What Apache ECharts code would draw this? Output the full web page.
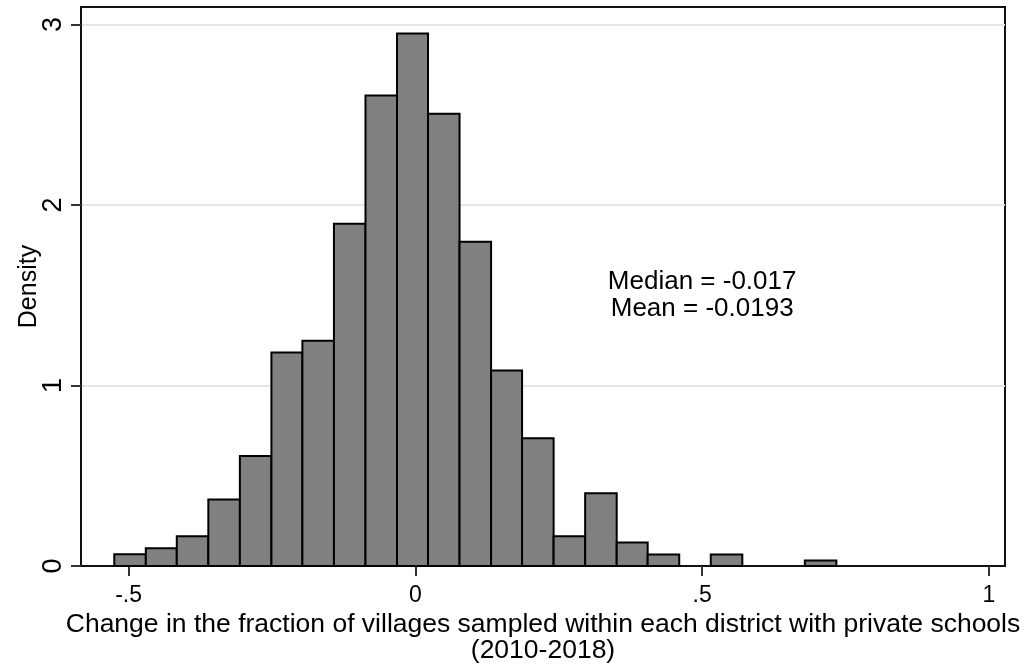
<!DOCTYPE html>
<html>
<head>
<meta charset="utf-8">
<script src="https://cdn.jsdelivr.net/npm/echarts@6/dist/echarts.min.js"></script>
<style>
  html, body { margin: 0; padding: 0; background: #fff; }
  #chart { width: 1027px; height: 669px; }
</style>
</head>
<body>
<div id="chart"></div>
<script>
// bin edges of the histogram
var binEdges = [-0.525, -0.470, -0.416, -0.361, -0.306, -0.251, -0.197, -0.142, -0.087, -0.032,
  0.022, 0.077, 0.132, 0.186, 0.241, 0.296, 0.351, 0.405, 0.460, 0.515, 0.570, 0.624, 0.679, 0.734];
// density of each bin
var densities = [0.065, 0.099, 0.165, 0.369, 0.609, 1.183, 1.248, 1.896, 2.607, 2.950,
  2.505, 1.796, 1.083, 0.708, 0.165, 0.403, 0.130, 0.064, 0, 0.064, 0, 0, 0.030];
var xTicks = [-0.5, 0, 0.5, 1];
var xTickLabels = ['-.5', '0', '.5', '1'];
var yTicks = [0, 1, 2, 3];
var notePos = [0.5, 1.5];
var noteLines = ['Median = -0.017', 'Mean = -0.0193'];

var bins = [];
for (var i = 0; i < densities.length; i++) {
  bins.push([binEdges[i], binEdges[i + 1], densities[i]]);
}

var font = 'Liberation Sans, Arial, sans-serif';
var chart = echarts.init(document.getElementById('chart'));
var option = {
  animation: false,
  grid: {
    left: 81, right: 22, top: 7, bottom: 103,
    outerBoundsMode: 'none',
    containLabel: false,
    show: true,
    borderColor: '#111',
    borderWidth: 2
  },
  xAxis: {
    type: 'value',
    min: -0.583,
    max: 1.028,
    name: 'Change in the fraction of villages sampled within each district with private schools\n(2010-2018)',
    nameLocation: 'middle',
    nameGap: 46,
    nameMoveOverlap: false,
    nameTextStyle: { fontFamily: font, fontSize: 26.5, color: '#000', lineHeight: 26 },
    axisLine: { onZero: false, lineStyle: { color: '#111', width: 2 } },
    axisTick: { show: true, length: 10, customValues: xTicks, lineStyle: { color: '#333', width: 2 } },
    axisLabel: {
      customValues: xTicks,
      margin: 18,
      fontFamily: font, fontSize: 23, color: '#000',
      formatter: function (v) { return xTickLabels[xTicks.indexOf(v)]; }
    },
    splitLine: { show: false }
  },
  yAxis: {
    type: 'value',
    min: 0,
    max: 3.097,
    name: 'Density',
    nameLocation: 'middle',
    nameGap: 39,
    nameMoveOverlap: false,
    nameTextStyle: { fontFamily: font, fontSize: 25, color: '#000' },
    axisLine: { show: true, onZero: false, lineStyle: { color: '#111', width: 2 } },
    axisTick: { show: true, length: 10, customValues: yTicks, lineStyle: { color: '#333', width: 2 } },
    axisLabel: {
      customValues: yTicks,
      rotate: 90,
      margin: 14,
      fontFamily: font, fontSize: 27, color: '#000'
    },
    splitLine: { show: true, lineStyle: { color: '#e6e6e6', width: 2 } }
  },
  series: [
    {
      type: 'custom',
      data: bins,
      encode: { x: [0, 1], y: 2 },
      renderItem: function (params, api) {
        if (api.value(2) <= 0) return null;
        var p0 = api.coord([api.value(0), api.value(2)]);
        var p1 = api.coord([api.value(1), 0]);
        return {
          type: 'rect',
          shape: { x: p0[0], y: p0[1], width: p1[0] - p0[0], height: p1[1] - p0[1] },
          style: { fill: '#808080', stroke: '#000', lineWidth: 2 }
        };
      }
    },
    {
      // median / mean note placed in data coordinates
      type: 'custom',
      silent: true,
      data: [notePos],
      encode: { x: 0, y: 1 },
      renderItem: function (params, api) {
        var p = api.coord([api.value(0), api.value(1)]);
        return {
          type: 'text',
          x: p[0], y: p[1],
          style: {
            text: noteLines.join('\n'),
            fill: '#000',
            font: '26px ' + font,
            lineHeight: 27,
            align: 'center',
            verticalAlign: 'middle'
          }
        };
      }
    }
  ]
};
chart.setOption(option);
</script>
</body>
</html>
